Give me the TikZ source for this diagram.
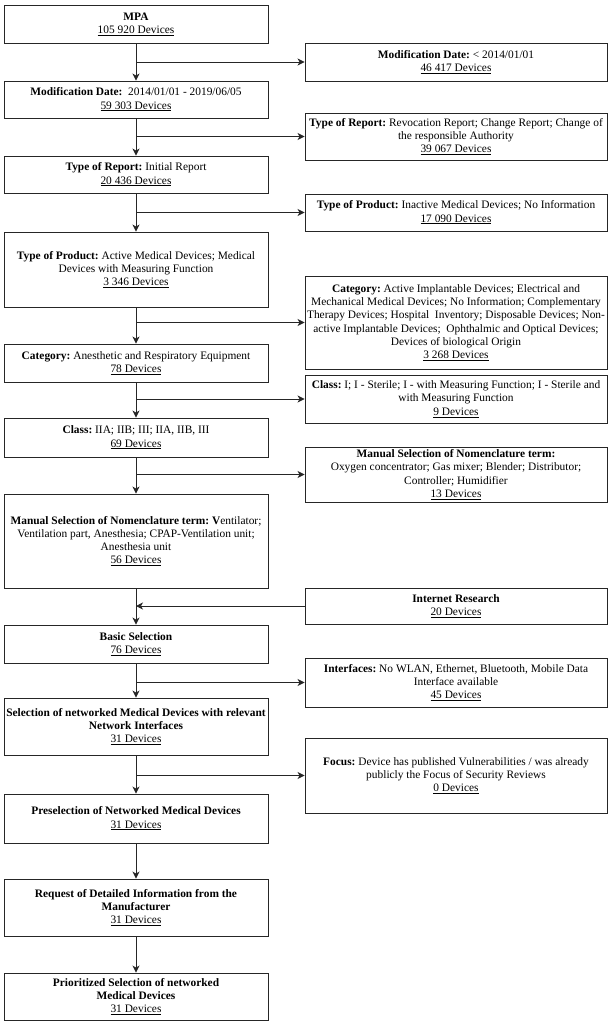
\documentclass[tikz,border=0pt]{standalone}
\usepackage{fontspec}
\setmainfont{Liberation Serif}
\usepackage{tikz}
\usetikzlibrary{arrows.meta}

\newcommand{\devs}[1]{\underline{#1 Devices}}
\frenchspacing

\tikzset{
    flowbox/.style={draw=black!85, line width=0.9pt, align=center, inner sep=0pt, font=\fontsize{11.4}{13.3}\selectfont},
    leftbox/.style={flowbox, minimum width=264pt},
    sidebox/.style={flowbox, minimum width=302pt},
    flowarrow/.style={draw=black!85, line width=0.9pt, -{Stealth[length=7pt,width=7pt,inset=2pt]}}
}

\begin{document}
\begin{tikzpicture}[x=1pt, y=1pt]
            \useasboundingbox (0,0) rectangle (614,-1024);

            % main column
            \node[leftbox, minimum height=38pt] (mpa) at (136,-24) {\textbf{MPA}\\\devs{105 920}};
            \node[leftbox, minimum height=37pt] (moddate) at (136,-99.5) {\textbf{Modification Date:}\ \ 2014/01/01 - 2019/06/05\\\devs{59 303}};
            \node[leftbox, minimum height=37pt] (report) at (136,-174.5) {\textbf{Type of Report:} Initial Report\\\devs{20 436}};
            \node[leftbox, minimum height=75pt] (product) at (136,-269.5) {\textbf{Type of Product:} Active Medical Devices; Medical\\Devices with Measuring Function\\\devs{3 346}};
            \node[leftbox, minimum height=38pt] (category) at (136,-363) {\textbf{Category:} Anesthetic and Respiratory Equipment\\\devs{78}};
            \node[leftbox, minimum height=39pt] (class) at (136,-437.5) {\textbf{Class:} IIA; IIB; III; IIA, IIB, III\\\devs{69}};
            \node[leftbox, minimum height=94pt] (manual) at (136,-541) {\textbf{Manual Selection of Nomenclature term: V}entilator;\\Ventilation part, Anesthesia; CPAP-Ventilation unit;\\Anesthesia unit\\\devs{56}};
            \node[leftbox, minimum height=38pt] (basic) at (136,-644) {\textbf{Basic Selection}\\\devs{76}};
            \node[leftbox, minimum height=57pt] (network) at (136,-726.5) {\textbf{Selection of networked Medical Devices with relevant}\\\textbf{Network Interfaces}\\\devs{31}};
            \node[leftbox, minimum height=49pt] (presel) at (136,-818.5) {\textbf{Preselection of Networked Medical Devices}\\\devs{31}};
            \node[leftbox, minimum height=57pt] (request) at (136,-907.5) {\textbf{Request of Detailed Information from the}\\\textbf{Manufacturer}\\\devs{31}};
            \node[leftbox, minimum height=47pt] (prio) at (136,-996.5) {\textbf{Prioritized Selection of networked}\\\textbf{Medical Devices}\\\devs{31}};

            % excluded / added devices
            \node[sidebox, minimum height=38pt] (xdate) at (456,-62) {\textbf{Modification Date:} {\char"3C} 2014/01/01\\\devs{46 417}};
            \node[sidebox, minimum height=47pt] (xreport) at (456,-136.5) {\textbf{Type of Report:} Revocation Report; Change Report; Change of\\the responsible Authority\\\devs{39 067}};
            \node[sidebox, minimum height=37pt] (xproduct) at (456,-212.5) {\textbf{Type of Product:} Inactive Medical Devices; No Information\\\devs{17 090}};
            \node[sidebox, minimum height=93pt] (xcategory) at (456,-322.5) {\textbf{Category:} Active Implantable Devices; Electrical and\\Mechanical Medical Devices; No Information; Complementary\\Therapy Devices; Hospital\ \ Inventory; Disposable Devices; Non-\\active Implantable Devices;\ \ Ophthalmic and Optical Devices;\\Devices of biological Origin\\\devs{3 268}};
            \node[sidebox, minimum height=48pt] (xclass) at (456,-399) {\textbf{Class:} I; I - Sterile; I - with Measuring Function; I - Sterile and\\with Measuring Function\\\devs{9}};
            \node[sidebox, minimum height=55pt] (xmanual) at (456,-474.5) {\textbf{Manual Selection of Nomenclature term:}\\Oxygen concentrator; Gas mixer; Blender; Distributor;\\Controller; Humidifier\\\devs{13}};
            \node[sidebox, minimum height=36pt] (internet) at (456,-606) {\textbf{Internet Research}\\\devs{20}};
            \node[sidebox, minimum height=49pt] (xinterfaces) at (456,-682.5) {\textbf{Interfaces:} No WLAN, Ethernet, Bluetooth, Mobile Data\\Interface available\\\devs{45}};
            \node[sidebox, minimum height=75pt] (xfocus) at (456,-775.5) {\textbf{Focus:} Device has published Vulnerabilities / was already\\publicly the Focus of Security Reviews\\\devs{0}};

            % main flow
            \draw[flowarrow] (mpa) -- (moddate);
            \draw[flowarrow] (moddate) -- (report);
            \draw[flowarrow] (report) -- (product);
            \draw[flowarrow] (product) -- (category);
            \draw[flowarrow] (category) -- (class);
            \draw[flowarrow] (class) -- (manual);
            \draw[flowarrow] (manual) -- (basic);
            \draw[flowarrow] (basic) -- (network);
            \draw[flowarrow] (network) -- (presel);
            \draw[flowarrow] (presel) -- (request);
            \draw[flowarrow] (request) -- (prio);

            % branches
            \draw[flowarrow] (mpa.south |- xdate.west) -- (xdate.west);
            \draw[flowarrow] (moddate.south |- xreport.west) -- (xreport.west);
            \draw[flowarrow] (report.south |- xproduct.west) -- (xproduct.west);
            \draw[flowarrow] (product.south |- xcategory.west) -- (xcategory.west);
            \draw[flowarrow] (category.south |- xclass.west) -- (xclass.west);
            \draw[flowarrow] (class.south |- xmanual.west) -- (xmanual.west);
            \draw[flowarrow] (internet.west) -- (manual.south |- internet.west);
            \draw[flowarrow] (basic.south |- xinterfaces.west) -- (xinterfaces.west);
            \draw[flowarrow] (network.south |- xfocus.west) -- (xfocus.west);
        \end{tikzpicture}
\end{document}
